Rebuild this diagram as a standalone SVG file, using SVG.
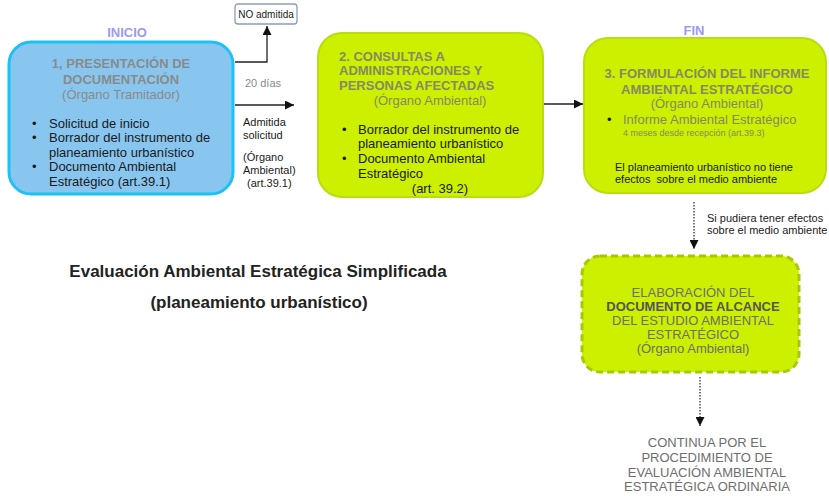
<svg xmlns="http://www.w3.org/2000/svg" width="829" height="496" viewBox="0 0 829 496">
<defs>
<style>
text{font-family:"Liberation Sans",Arial,sans-serif;font-size:13px;fill:#1a1a1a}
.t{font-weight:bold;fill:#8a8a8a}
.g{fill:#8a8a8a}
.c{text-anchor:middle}
.s{font-size:11px}
.xs{font-size:9px}
.lbl{font-weight:bold;fill:#9b9bef;font-size:13px}
.ok{fill:#ccf000;stroke:#b9dc12;stroke-width:2}
.d{fill:#6e6e6e}
.ln{fill:none;stroke:#222;stroke-width:1.3}
.dot{fill:none;stroke:#333;stroke-width:1.3;stroke-dasharray:1.5 1.5}
</style>
<marker id="ah" viewBox="0 0 10 10" refX="10" refY="5" markerWidth="9" markerHeight="9" markerUnits="userSpaceOnUse" orient="auto"><path d="M0,0 L10,5 L0,10 z" fill="#111"/></marker>
</defs>
<rect width="829" height="496" fill="#fff"/>

<g id="connectors">
<path class="ln" d="M235,62 H267 V26" marker-end="url(#ah)"/>
<path class="ln" d="M235,105 H294" marker-end="url(#ah)"/>
<path class="ln" d="M543,104 H583" marker-end="url(#ah)"/>
<path class="dot" d="M694,202 V249" marker-end="url(#ah)"/>
<path class="dot" d="M700,377 V426" marker-end="url(#ah)"/>
<text class="s g" x="263" y="87" text-anchor="middle">20 días</text>
<text class="s" x="243" y="126">Admitida</text>
<text class="s" x="243" y="139">solicitud</text>
<text class="s" x="243" y="161">(Órgano</text>
<text class="s" x="243" y="174">Ambiental)</text>
<text class="s" x="247" y="187">(art.39.1)</text>
<text class="s" x="707" y="222">Si pudiera tener efectos</text>
<text class="s" x="707" y="234">sobre el medio ambiente</text>
</g>

<g id="no-admitida">
<rect x="235" y="4" width="62" height="20" rx="3" fill="#fff" stroke="#8a9ac0" stroke-width="1.3"/>
<text x="266" y="18" class="c" style="font-size:10px">NO admitida</text>
</g>

<g id="node1">
<text class="lbl c" x="127" y="37">INICIO</text>
<rect x="9" y="42" width="224" height="152" rx="22" fill="#88c6f0" stroke="#1fc1f4" stroke-width="3"/>
<text class="t c" x="121" y="68">1, PRESENTACIÓN DE</text>
<text class="t c" x="121" y="84">DOCUMENTACIÓN</text>
<text class="g c" x="121" y="99">(Órgano Tramitador)</text>
<text x="32" y="128">•</text>
<text x="49" y="128">Solicitud de inicio</text>
<text x="32" y="142">•</text>
<text x="49" y="142">Borrador del instrumento de</text>
<text x="49" y="157">planeamiento urbanístico</text>
<text x="32" y="171">•</text>
<text x="49" y="171">Documento Ambiental</text>
<text x="49" y="186">Estratégico (art.39.1)</text>
</g>

<g id="node2">
<rect class="ok" x="318" y="33" width="225" height="164" rx="24"/>
<text class="t" x="339" y="61" style="fill:#858a62">2. CONSULTAS A</text>
<text class="t" x="339" y="75" style="fill:#858a62">ADMINISTRACIONES Y</text>
<text class="t" x="339" y="90" style="fill:#858a62">PERSONAS AFECTADAS</text>
<text class="c" x="430" y="105" style="fill:#858a62">(Órgano Ambiental)</text>
<text x="342" y="134">•</text>
<text x="358" y="134">Borrador del instrumento de</text>
<text x="358" y="148">planeamiento urbanístico</text>
<text x="342" y="163">•</text>
<text x="358" y="163">Documento Ambiental</text>
<text x="358" y="178">Estratégico</text>
<text class="c" x="440" y="193">(art. 39.2)</text>
</g>

<g id="node3">
<text class="lbl c" x="694" y="35">FIN</text>
<rect class="ok" x="584" y="38" width="242" height="155" rx="24"/>
<text class="t c" x="707" y="78" style="fill:#858a62">3. FORMULACIÓN DEL INFORME</text>
<text class="t c" x="707" y="94" style="fill:#858a62">AMBIENTAL ESTRATÉGICO</text>
<text class="c" x="707" y="108" style="fill:#858a62">(Órgano Ambiental)</text>
<text x="607" y="124">•</text>
<text x="623" y="124" style="fill:#858a62">Informe Ambiental Estratégico</text>
<text class="xs" x="623" y="136" style="fill:#858a62">4 meses desde recepción (art.39.3)</text>
<text class="s" x="615" y="171">El planeamiento urbanístico no tiene</text>
<text class="s" x="615" y="183" xml:space="preserve">efectos  sobre el medio ambiente</text>
</g>

<g id="node4">
<rect x="582" y="256" width="217" height="116" rx="18" fill="#ccf000" stroke="#a9c800" stroke-width="3" stroke-dasharray="7 4"/>
<text class="c d" x="693" y="297">ELABORACIÓN DEL</text>
<text class="c" x="693" y="311" style="font-weight:bold;fill:#555">DOCUMENTO DE ALCANCE</text>
<text class="c d" x="693" y="325">DEL ESTUDIO AMBIENTAL</text>
<text class="c d" x="693" y="339">ESTRATÉGICO</text>
<text class="c d" x="693" y="353">(Órgano Ambiental)</text>
</g>

<g id="continua">
<text class="c d" x="707" y="447">CONTINUA POR EL</text>
<text class="c d" x="707" y="462">PROCEDIMIENTO DE</text>
<text class="c d" x="707" y="477">EVALUACIÓN AMBIENTAL</text>
<text class="c d" x="707" y="491">ESTRATÉGICA ORDINARIA</text>
</g>

<g id="title">
<text class="c" x="258" y="277" style="font-size:17px;font-weight:bold;fill:#222">Evaluación Ambiental Estratégica Simplificada</text>
<text class="c" x="259" y="308" style="font-size:17px;font-weight:bold;fill:#222">(planeamiento urbanístico)</text>
</g>
</svg>
